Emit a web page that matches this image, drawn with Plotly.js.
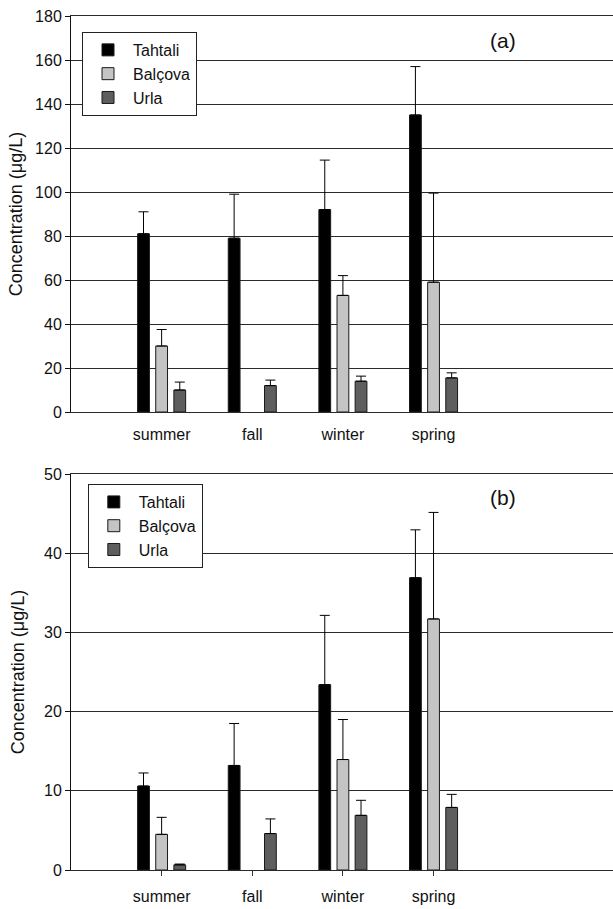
<!DOCTYPE html>
<html>
<head>
<meta charset="utf-8">
<script src="https://cdn.plot.ly/plotly-3.0.1.min.js"></script>
<style>html,body{margin:0;padding:0;background:#fff;}#chart{width:613px;height:909px;}</style>
</head>
<body>
<div id="chart"></div>
<script>
const seasons = ['summer', 'fall', 'winter', 'spring'];
const seriesNames = ['Tahtali', 'Balçova', 'Urla'];
const seriesColors = ['#000000', '#c4c4c4', '#5e5e5e'];

// Panel (a)
const aTahtali = [81, 79, 92, 135];
const aTahtaliErr = [10, 20, 22.5, 22];
const aBalcova = [30, null, 53, 59];
const aBalcovaErr = [7.5, null, 9, 40.5];
const aUrla = [10, 12, 14, 15.5];
const aUrlaErr = [3.6, 2.5, 2.3, 2.3];

// Panel (b)
const bTahtali = [10.6, 13.2, 23.4, 36.9];
const bTahtaliErr = [1.65, 5.3, 8.75, 6.05];
const bBalcova = [4.5, null, 13.95, 31.7];
const bBalcovaErr = [2.15, null, 5.05, 13.45];
const bUrla = [0.65, 4.6, 6.9, 7.9];
const bUrlaErr = [0.1, 1.85, 1.9, 1.65];

const FONT = 'Liberation Sans, Arial, sans-serif';

function mk(name, color, vals, errs, xa, ya, leg) {
  return {
    type: 'bar', name: name, x: seasons, y: vals,
    xaxis: xa, yaxis: ya, legend: leg,
    marker: {color: color, line: {color: '#1a1a1a', width: 1}},
    error_y: {type: 'data', symmetric: false, array: errs,
              arrayminus: errs.map(e => e == null ? null : 0),
              color: '#000', thickness: 1, width: 5},
    hoverinfo: 'skip'
  };
}

const aVals = [aTahtali, aBalcova, aUrla];
const aErrs = [aTahtaliErr, aBalcovaErr, aUrlaErr];
const bVals = [bTahtali, bBalcova, bUrla];
const bErrs = [bTahtaliErr, bBalcovaErr, bUrlaErr];

const traces = [];
for (let i = 0; i < 3; i++) traces.push(mk(seriesNames[i], seriesColors[i], aVals[i], aErrs[i], 'x', 'y', 'legend'));
for (let i = 0; i < 3; i++) traces.push(mk(seriesNames[i], seriesColors[i], bVals[i], bErrs[i], 'x2', 'y2', 'legend2'));

const tickFont = {family: FONT, size: 16, color: '#111'};
const xCommon = {
  type: 'category', categoryorder: 'array', categoryarray: seasons,
  range: [-1, 4.98], showgrid: false, zeroline: false,
  showline: true, mirror: true, linecolor: '#2a2a2a', linewidth: 1,
  tickfont: tickFont, fixedrange: true
};
const yCommon = {
  showgrid: true, gridcolor: '#2a2a2a', gridwidth: 1,
  zeroline: false, showline: true, linecolor: '#111', linewidth: 1,
  ticks: 'outside', ticklen: 5, tickcolor: '#111', tickwidth: 1,
  tickfont: tickFont, fixedrange: true
};
const yTitleFont = {family: FONT, size: 18, color: '#111'};

const legCommon = {
  bgcolor: '#fff', bordercolor: '#222', borderwidth: 1,
  font: {family: FONT, size: 16, color: '#111'},
  xanchor: 'left', yanchor: 'top', tracegroupgap: 0, itemwidth: 40
};

const layout = {
  width: 613, height: 909,
  margin: {l: 71, r: 0, t: 16, b: 39},
  paper_bgcolor: '#fff', plot_bgcolor: '#fff',
  barmode: 'group', bargap: 0.4, bargroupgap: 0.35,
  showlegend: true,
  xaxis: Object.assign({}, xCommon, {domain: [0, 1], anchor: 'y', ticks: '', ticklabelstandoff: 8}),
  yaxis: Object.assign({}, yCommon, {domain: [0.5363, 1], anchor: 'x', range: [0, 180], dtick: 20,
    title: {text: 'Concentration (μg/L)', standoff: 7, font: yTitleFont}}),
  xaxis2: Object.assign({}, xCommon, {domain: [0, 1], anchor: 'y2', ticks: 'outside', ticklen: 5, tickcolor: '#333', ticklabelstandoff: 7}),
  yaxis2: Object.assign({}, yCommon, {domain: [0, 0.4637], anchor: 'x2', range: [0, 50], dtick: 10,
    title: {text: 'Concentration (μg/L)', standoff: 14, font: yTitleFont}}),
  legend: Object.assign({}, legCommon, {x: 0.0203, y: 0.9813}),
  legend2: Object.assign({}, legCommon, {x: 0.031, y: 0.452}),
  annotations: [
    {text: '(a)', xref: 'x domain', yref: 'y domain', x: 0.797, y: 0.937, showarrow: false,
     font: {family: FONT, size: 21, color: '#111'}, xanchor: 'center', yanchor: 'middle'},
    {text: '(b)', xref: 'x2 domain', yref: 'y2 domain', x: 0.797, y: 0.941, showarrow: false,
     font: {family: FONT, size: 21, color: '#111'}, xanchor: 'center', yanchor: 'middle'}
  ]
};

Plotly.newPlot('chart', traces, layout, {displayModeBar: false, staticPlot: true});
</script>
</body>
</html>
